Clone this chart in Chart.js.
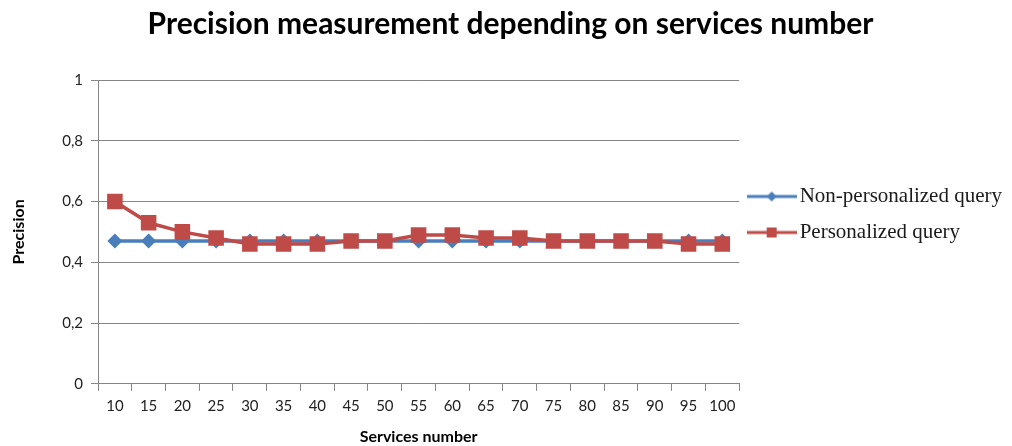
<!DOCTYPE html>
<html>
<head>
<meta charset="utf-8">
<script src="https://cdn.jsdelivr.net/npm/chart.js@4.4.1/dist/chart.umd.min.js"></script>
<style>
  html, body { margin: 0; padding: 0; background: #fff; }
  #wrap { width: 1012px; height: 446px; }
</style>
</head>
<body>
<div id="wrap"><canvas id="myChart" width="1012" height="446"></canvas></div>
<script>
// services number on x axis
const services = ['10', '15', '20', '25', '30', '35', '40', '45', '50', '55', '60', '65', '70', '75', '80', '85', '90', '95', '100'];

// precision values
const nonPersonalized = [0.47, 0.47, 0.47, 0.47, 0.47, 0.47, 0.47, 0.47, 0.47, 0.47, 0.47, 0.47, 0.47, 0.47, 0.47, 0.47, 0.47, 0.47, 0.47];
const personalized = [0.60, 0.53, 0.50, 0.48, 0.46, 0.46, 0.46, 0.47, 0.47, 0.49, 0.49, 0.48, 0.48, 0.47, 0.47, 0.47, 0.47, 0.46, 0.46];

const seriesNames = ['Non-personalized query', 'Personalized query'];

const blue = '#4a7ebb';
const red = '#be4b48';

// little line + marker picture for the legend
function legendIcon(color, shape) {
    const c = document.createElement('canvas');
    c.width = 50;
    c.height = 16;
    const g = c.getContext('2d');
    g.strokeStyle = color;
    g.lineWidth = 3;
    g.beginPath();
    g.moveTo(0, 8);
    g.lineTo(50, 8);
    g.stroke();
    g.fillStyle = color;
    g.beginPath();
    if (shape === 'diamond') {
        g.moveTo(25, 3); g.lineTo(30, 8); g.lineTo(25, 13); g.lineTo(20, 8);
    } else {
        g.rect(20, 3, 10, 10);
    }
    g.closePath();
    g.fill();
    return c;
}

const ctx = document.getElementById('myChart').getContext('2d');
const chart = new Chart(ctx, {
    type: 'line',
    data: {
        labels: services,
        datasets: [{
            label: seriesNames[0],
            data: nonPersonalized,
            borderColor: blue,
            backgroundColor: blue,
            borderWidth: 3.5,
            pointStyle: 'rectRot',
            pointRadius: 7.5,
            pointHoverRadius: 7.5,
            pointBorderWidth: 0,
            order: 1,
            legendIcon: legendIcon(blue, 'diamond')
        }, {
            label: seriesNames[1],
            data: personalized,
            borderColor: red,
            backgroundColor: red,
            borderWidth: 3.5,
            pointStyle: 'rect',
            pointRadius: 11,
            pointHoverRadius: 11,
            pointBorderWidth: 0,
            order: 0,
            legendIcon: legendIcon(red, 'square')
        }]
    },
    options: {
        responsive: false,
        animation: false,
        layout: { padding: { left: 9, right: 0, top: 6, bottom: 0 } },
        plugins: {
            title: {
                display: true,
                text: 'Precision measurement depending on services number',
                color: '#000',
                font: { family: 'Lato', size: 30, weight: 'bold' },
                padding: { top: 0, bottom: 38 }
            },
            legend: {
                position: 'right',
                align: 'start',
                maxWidth: 300,
                // empty title only used to push the items down
                title: {
                    display: true,
                    text: '',
                    font: { size: 10 },
                    padding: { top: 153, bottom: 0 }
                },
                labels: {
                    color: '#1a1a1a',
                    font: { family: 'Liberation Serif', size: 21 },
                    usePointStyle: true,
                    pointStyleWidth: 35,
                    padding: 15,
                    sort: (a, b) => a.datasetIndex - b.datasetIndex,
                    generateLabels: (chart) => chart.data.datasets.map((ds, i) => ({
                        text: ds.label,
                        datasetIndex: i,
                        pointStyle: ds.legendIcon,
                        fillStyle: ds.backgroundColor,
                        strokeStyle: ds.borderColor,
                        lineWidth: 0,
                        fontColor: '#1a1a1a',
                        hidden: false
                    }))
                }
            },
            tooltip: { enabled: false }
        },
        scales: {
            x: {
                offset: true,
                grid: {
                    offset: true,
                    drawOnChartArea: false,
                    tickLength: 7,
                    color: '#868686'
                },
                border: { color: '#868686' },
                ticks: {
                    color: '#222',
                    font: { family: 'Lato', size: 15 },
                    maxRotation: 0,
                    autoSkip: false,
                    padding: 6
                },
                title: {
                    display: true,
                    text: 'Services number',
                    color: '#000',
                    font: { family: 'Lato', size: 16, weight: 'bold' },
                    padding: { top: 6, bottom: 0 }
                }
            },
            y: {
                min: 0,
                max: 1,
                grid: {
                    color: '#868686',
                    tickLength: 7
                },
                border: { color: '#868686' },
                ticks: {
                    stepSize: 0.2,
                    color: '#222',
                    font: { family: 'Lato', size: 15 },
                    padding: 8,
                    callback: (v) => String(Math.round(v * 10) / 10).replace('.', ',')
                },
                title: {
                    display: true,
                    text: 'Precision',
                    color: '#000',
                    font: { family: 'Lato', size: 16, weight: 'bold' },
                    padding: { top: 0, bottom: 26 }
                }
            }
        }
    }
});
</script>
</body>
</html>
